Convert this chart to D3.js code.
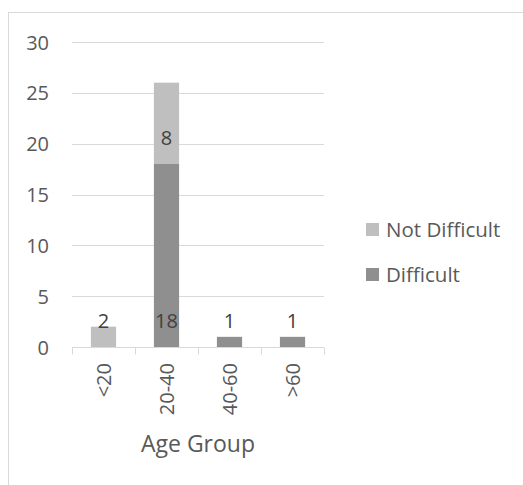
<!DOCTYPE html>
<html>
<head>
<meta charset="utf-8">
<script src="https://cdn.jsdelivr.net/npm/d3@7"></script>
<style>
  html, body { margin: 0; padding: 0; background: #fff; }
  svg { display: block; font-family: "Open Sans", "Noto Sans", sans-serif; }
</style>
</head>
<body>
<svg id="chart" width="523" height="485"></svg>
<script>
// Age groups and counts per answer
const categories = ["<20", "20-40", "40-60", ">60"];
const difficult = [0, 18, 1, 1];
const notDifficult = [2, 8, 0, 0];
const yTicks = [0, 5, 10, 15, 20, 25, 30];
const seriesNames = ["Difficult", "Not Difficult"];
const legendOrder = ["Not Difficult", "Difficult"];
const colors = { "Difficult": "#8f8f8f", "Not Difficult": "#bfbfbf" };

const svg = d3.select("#chart");

// chart frame
svg.append("rect")
  .attr("x", 8.5).attr("y", 12.5)
  .attr("width", 530).attr("height", 490)
  .attr("fill", "#fff").attr("stroke", "#d9d9d9").attr("stroke-width", 1);

const plot = { left: 72, right: 324, top: 42, bottom: 347 };

const x = d3.scaleBand().domain(categories).range([plot.left, plot.right]).padding(0);
const y = d3.scaleLinear().domain([0, 30]).range([plot.bottom, plot.top]);
const barW = x.step() * 0.4;

// gridlines
svg.append("g").selectAll("line").data(yTicks.filter(d => d > 0)).join("line")
  .attr("x1", plot.left).attr("x2", plot.right)
  .attr("y1", d => Math.round(y(d)) + 0.5).attr("y2", d => Math.round(y(d)) + 0.5)
  .attr("stroke", "#d9d9d9").attr("stroke-width", 1);

// y tick labels
svg.append("g").selectAll("text").data(yTicks).join("text")
  .attr("x", 49).attr("y", d => y(d))
  .attr("text-anchor", "end").attr("dominant-baseline", "central")
  .attr("font-size", 20).attr("fill", "#595959")
  .text(d => d);

// stacked bars
const rows = categories.map((c, i) => ({ cat: c, "Difficult": difficult[i], "Not Difficult": notDifficult[i] }));
const stack = d3.stack().keys(seriesNames)(rows);

const layers = svg.append("g").selectAll("g").data(stack).join("g")
  .attr("fill", d => colors[d.key]);

layers.selectAll("rect").data(d => d.filter(s => s[1] - s[0] > 0)).join("rect")
  .attr("x", d => x(d.data.cat) + (x.bandwidth() - barW) / 2)
  .attr("width", barW)
  .attr("y", d => y(d[1]))
  .attr("height", d => y(d[0]) - y(d[1]));

// value labels, placed just above each segment base
layers.each(function (layer) {
  d3.select(this).selectAll("text").data(layer.filter(s => s[1] - s[0] > 0)).join("text")
    .attr("x", d => x(d.data.cat) + x.bandwidth() / 2)
    .attr("y", d => y(d[0]) - 19)
    .attr("text-anchor", "middle")
    .attr("font-size", 20).attr("fill", "#404040")
    .text(d => d[1] - d[0]);
});

// x axis line and ticks
const axisG = svg.append("g").attr("transform", `translate(0,${plot.bottom + 0.5})`);
axisG.append("line").attr("x1", plot.left).attr("x2", plot.right)
  .attr("stroke", "#d9d9d9");
const boundaries = categories.map(c => x(c)).concat([plot.right]);
axisG.selectAll("line.tick").data(boundaries).join("line").attr("class", "tick")
  .attr("x1", d => Math.round(d) + 0.5).attr("x2", d => Math.round(d) + 0.5)
  .attr("y1", 0).attr("y2", 7).attr("stroke", "#d9d9d9");

// rotated category labels
svg.append("g").selectAll("text").data(categories).join("text")
  .attr("transform", d => `translate(${x(d) + x.bandwidth() / 2},363) rotate(-90)`)
  .attr("text-anchor", "end").attr("dominant-baseline", "central")
  .attr("font-size", 20).attr("fill", "#595959")
  .text(d => d);

// axis title
svg.append("text")
  .attr("x", (plot.left + plot.right) / 2).attr("y", 452)
  .attr("text-anchor", "middle")
  .attr("font-size", 23).attr("fill", "#595959")
  .text("Age Group");

// legend
const legend = svg.append("g").selectAll("g").data(legendOrder).join("g")
  .attr("transform", (d, i) => `translate(366,${223 + i * 45})`);
legend.append("rect").attr("width", 13).attr("height", 13).attr("fill", d => colors[d]);
legend.append("text").attr("x", 20).attr("y", 13.7)
  .attr("font-size", 20.5).attr("fill", "#595959")
  .text(d => d);
</script>
</body>
</html>
